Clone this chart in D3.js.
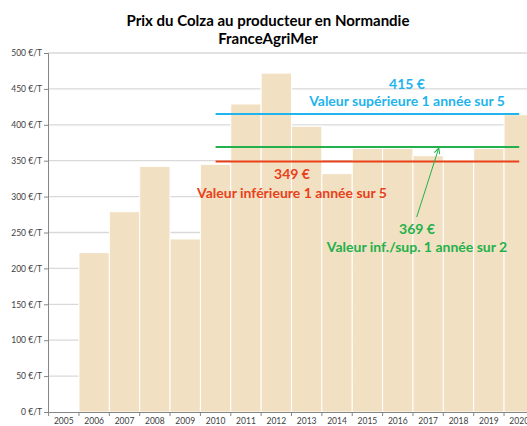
<!DOCTYPE html>
<html><head><meta charset="utf-8">
<script src="https://cdn.jsdelivr.net/npm/d3@7"></script>
<style>body{margin:0;background:#fff}svg{display:block}</style>
</head><body>
<script>
const years = ["2005","2006","2007","2008","2009","2010","2011","2012","2013","2014","2015","2016","2017","2018","2019","2020"];
const prices = [null,222,279,342,241,345,429,472,398,332,367,367,357,351,367,414];
const yTicks = [0,50,100,150,200,250,300,350,400,450,500];
const refValues = [415,369,349];
const refColors = ["#1FB4EC","#22B14C","#E8411A"];
const refPrices = ["415 €","369 €","349 €"];
const refLabels = ["Valeur supérieure 1 année sur 5","Valeur inf./sup. 1 année sur 2","Valeur inférieure 1 année sur 5"];
const titleLines = ["Prix du Colza au producteur en Normandie","FranceAgriMer"];

const W=527,H=426;
const font="Lato, 'Open Sans', sans-serif";
const svg=d3.select("body").append("svg").attr("width",W).attr("height",H);
const x=d3.scaleBand().domain(years).range([48.6,534.4]).padding(0);
const y=d3.scaleLinear().domain([0,500]).range([412,53]);

// gridlines
svg.append("g").selectAll("line").data(yTicks.filter(d=>d>0)).join("line")
 .attr("x1",48).attr("x2",W).attr("y1",d=>y(d)).attr("y2",d=>y(d))
 .attr("stroke","#d9d9d9").attr("stroke-width",1.3);

// bars
svg.append("g").selectAll("rect").data(years.map((k,i)=>({k,v:prices[i]})).filter(d=>d.v!=null)).join("rect")
 .attr("x",d=>x(d.k)).attr("width",x.bandwidth()).attr("y",d=>y(d.v)).attr("height",d=>y(0)-y(d.v))
 .attr("fill","#F2E0C2").attr("stroke","#fff").attr("stroke-width",1);

// axes
const yAxis=svg.append("g").attr("transform","translate(48,0)")
 .call(d3.axisLeft(y).tickValues(yTicks).tickSize(4).tickFormat(d=>d+" €/T"));
yAxis.select(".domain").attr("stroke","#868686");
yAxis.selectAll(".tick line").attr("stroke","#868686");
yAxis.selectAll("text").attr("font-family",font).attr("font-size",8.5).attr("fill","#404040").attr("x",-6);

const xAxis=svg.append("g").attr("transform","translate(0,412)")
 .call(d3.axisBottom(x).tickSize(0).tickSizeOuter(0));
xAxis.select(".domain").attr("stroke","#868686");
xAxis.selectAll("text").attr("font-family",font).attr("font-size",8.5).attr("fill","#404040").attr("y",6).attr("dy","0.71em");
svg.append("g").selectAll("line").data(years).join("line")
 .attr("x1",d=>x(d)).attr("x2",d=>x(d)).attr("y1",412).attr("y2",416).attr("stroke","#868686");

// reference lines
const xs=x("2010")+x.bandwidth()/2, xe=x("2020")+x.bandwidth()/2;
svg.append("g").selectAll("line").data(refValues).join("line")
 .attr("x1",xs).attr("x2",xe).attr("y1",d=>y(d)).attr("y2",d=>y(d))
 .attr("stroke",(d,i)=>refColors[i]).attr("stroke-width",2);

// annotations
const ann=[{i:0,x:407,y1:89,y2:106},{i:2,x:292,y1:179,y2:197.5},{i:1,x:417,y1:234,y2:251.5}];
ann.forEach(a=>{
 svg.append("text").attr("x",a.x).attr("y",a.y1).attr("text-anchor","middle")
  .attr("font-family",font).attr("font-weight","bold").attr("font-size",14).attr("fill",refColors[a.i]).text(refPrices[a.i]);
 svg.append("text").attr("x",a.x).attr("y",a.y2).attr("text-anchor","middle")
  .attr("font-family",font).attr("font-weight","bold").attr("font-size",14).attr("fill",refColors[a.i]).text(refLabels[a.i]);
});
// arrow
svg.append("defs").append("marker").attr("id","ah").attr("viewBox","0 0 10 10").attr("refX",9).attr("refY",5)
 .attr("markerWidth",7).attr("markerHeight",7).attr("orient","auto")
 .append("path").attr("d","M1,1 L9,5 L1,9").attr("fill","none").attr("stroke","#22B14C").attr("stroke-width",1.5);
svg.append("line").attr("x1",416.7).attr("y1",217).attr("x2",x("2017")+x.bandwidth()*0.85).attr("y2",y(369)+1)
 .attr("stroke","#22B14C").attr("stroke-width",1).attr("marker-end","url(#ah)");

// title
svg.append("g").selectAll("text").data(titleLines).join("text")
 .attr("x",268).attr("y",(d,i)=>26+i*18).attr("text-anchor","middle")
 .attr("font-family",font).attr("font-weight","bold").attr("font-size",15).attr("fill","#000").text(d=>d);
</script>
</body></html>
